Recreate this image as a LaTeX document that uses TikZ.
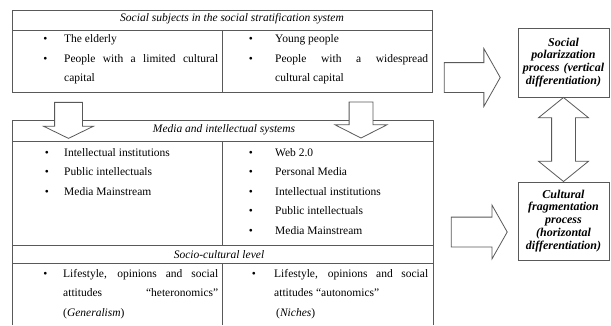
\documentclass[tikz,border=0pt]{standalone}
\usepackage{fontspec}
\setmainfont{Liberation Serif}
\usetikzlibrary{shapes.arrows,positioning,calc}

\tikzset{
  rule/.style={draw=black!65,line width=0.8pt},
  head/.style={anchor=base,inner sep=0pt,font=\fontsize{11.5}{14}\selectfont\itshape},
  bul/.style={anchor=base,inner sep=0pt,font=\fontsize{11.5}{20}\selectfont},
  itm/.style={anchor=base west,inner sep=0pt,align=justify,font=\fontsize{11.5}{19.6}\selectfont},
  procbox/.style={rule,inner sep=1pt,text width=89pt,minimum width=91pt,align=center,
    font=\fontsize{12}{12.9}\selectfont\bfseries\itshape},
  blockarrow/.style={single arrow,rule,fill=white,inner xsep=0pt},
}

\begin{document}
\begin{tikzpicture}[x=1pt,y=-1pt]
\useasboundingbox (0,0) rectangle (611,325);

% social subjects
\draw[rule] (12,10) rectangle (432,92);
\draw[rule] (12,30) -- (432,30) (222,30) -- (222,92);
\node[head] (subj) at (232,21) {Social subjects in the social stratification system};
\node[bul] (b1) at (45.5,42) {\textbullet};
\node[itm,text width=154pt] (elder) at (64,42) {The elderly};
\node[bul] (b2) at (45.5,62) {\textbullet};
\node[itm,text width=154pt] (limited) at (64,62) {People with a limited cultural\linebreak capital};
\node[bul] (b3) at (251,42) {\textbullet};
\node[itm,text width=153pt] (young) at (275,42) {Young people};
\node[bul] (b4) at (251,62) {\textbullet};
\node[itm,text width=153pt] (wide) at (275,62) {People with a widespread\linebreak cultural capital};

% media and intellectual systems + socio-cultural level
\draw[rule] (12,325) -- (12,120) -- (433,120) -- (433,325);
\draw[rule] (12,141) -- (433,141) (222,141) -- (222,245);
\draw[rule] (12,245) -- (433,245) (12,263) -- (433,263) (222,263) -- (222,325);
\node[head] (media) at (224,132) {Media and intellectual systems};
\foreach \t [count=\i] in {Intellectual institutions,Public intellectuals,Media Mainstream}{
  \node[bul] (ml\i) at (47,136.4+19.6*\i) {\textbullet};
  \node[itm] (mlt\i) at (64,136.4+19.6*\i) {\t};
}
\foreach \t [count=\i] in {Web 2.0,Personal Media,Intellectual institutions,Public intellectuals,Media Mainstream}{
  \node[bul] (mr\i) at (251,136.4+19.6*\i) {\textbullet};
  \node[itm] (mrt\i) at (275,136.4+19.6*\i) {\t};
}
\node[head] (socio) at (219,258) {Socio-cultural level};
\node[bul] (b5) at (45.5,277) {\textbullet};
\node[itm,text width=155pt] (hetero) at (63,277)
  {Lifestyle, opinions and social\linebreak attitudes ``heteronomics''\linebreak (\textit{Generalism})};
\node[bul] (b6) at (254,277) {\textbullet};
\node[itm,text width=154pt] (auto) at (274,277)
  {Lifestyle, opinions and social\linebreak attitudes ``autonomics''\\\hspace*{2pt}(\textit{Niches})};

% processes
\node[procbox,minimum height=69pt] (polar) at (563.5,62.5)
  {Social\\ polarizzation\\ process (vertical\\ differentiation)};
\node[procbox,minimum height=78pt] (frag) at (563.5,221)
  {Cultural\\ fragmentation\\ process\\ (horizontal\\ differentiation)};

% block arrows
\node[blockarrow,rotate=-90,minimum height=36pt,inner ysep=13.5pt,
  single arrow head extend=11pt,single arrow tip angle=128] (down1) at (68.5,117) {};
\node[blockarrow,rotate=-90,minimum height=36pt,inner ysep=11.5pt,
  single arrow head extend=14pt,single arrow tip angle=126] (down2) at (361,117) {};
\node[blockarrow,minimum height=56pt,inner ysep=14.5pt,
  single arrow head extend=14pt,single arrow tip angle=121] (right1) at (468,77.5) {};
\node[blockarrow,minimum height=56pt,inner ysep=14.5pt,
  single arrow head extend=12pt,single arrow tip angle=121] (right2) at (475,232) {};
\node[double arrow,rule,fill=white,inner xsep=0pt,inner ysep=11.5pt,rotate=90,minimum height=84pt,
  double arrow head extend=13pt,double arrow tip angle=102]
  (link) at ($(polar.south)!0.5!(frag.north)$) {};

\end{tikzpicture}
\end{document}
